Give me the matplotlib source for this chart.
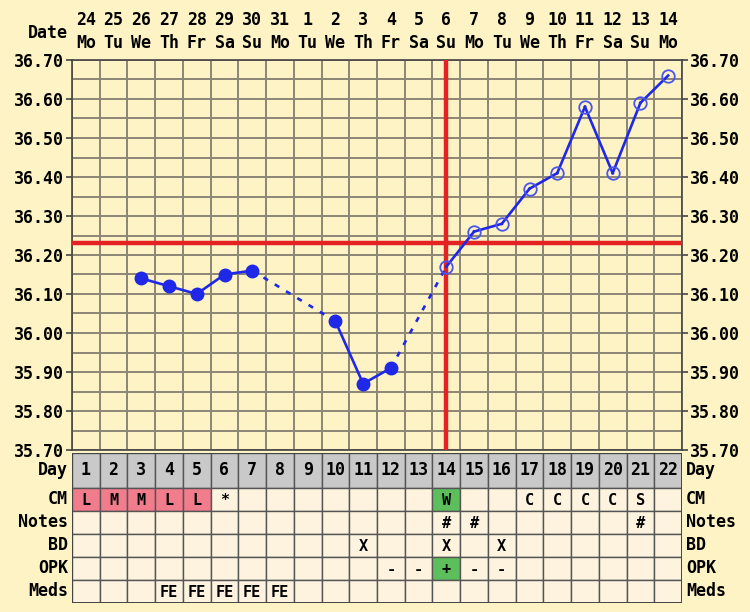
import matplotlib.pyplot as plt
from matplotlib.patches import Rectangle
from matplotlib.transforms import blended_transform_factory

# chart data
dates = ["24", "25", "26", "27", "28", "29", "30", "31", "1", "2", "3",
         "4", "5", "6", "7", "8", "9", "10", "11", "12", "13", "14"]
weekdays = ["Mo", "Tu", "We", "Th", "Fr", "Sa", "Su", "Mo", "Tu", "We", "Th",
            "Fr", "Sa", "Su", "Mo", "Tu", "We", "Th", "Fr", "Sa", "Su", "Mo"]
cycle_days = list(range(1, 23))
temps = [None, None, 36.14, 36.12, 36.10, 36.15, 36.16, None, None, 36.03, 35.87,
         35.91, None, 36.17, 36.26, 36.28, 36.37, 36.41, 36.58, 36.41, 36.59, 36.66]
ovulation_day = 14
coverline = 36.23

cm = ["L", "M", "M", "L", "L", "*", "", "", "", "", "", "", "", "W", "", "",
      "C", "C", "C", "C", "S", ""]
notes = [""] * 13 + ["#", "#"] + [""] * 5 + ["#", ""]
bd = [""] * 10 + ["X", "", "", "X", "", "X"] + [""] * 6
opk = [""] * 11 + ["-", "-", "+", "-", "-"] + [""] * 6
meds = ["", "", "", "FE", "FE", "FE", "FE", "FE"] + [""] * 14
row_names = ["CM", "Notes", "BD", "OPK", "Meds"]
row_values = [cm, notes, bd, opk, meds]
cell_colors = {("CM", "L"): "#f07c8c", ("CM", "M"): "#f07c8c",
               ("CM", "W"): "#5cbf5c", ("OPK", "+"): "#5cbf5c"}

BG = "#fef3c4"
CELL = "#fdf3df"
BLUE = "#1e28e6"
RED = "#e42222"
GRID = "#8c8676"
FONT = "DejaVu Sans Mono"

fig = plt.figure(figsize=(7.5, 6.12), dpi=100, facecolor=BG)
ax = fig.add_axes([72 / 750, 1 - 450 / 612, 610 / 750, 390 / 612])
ax.set_facecolor(BG)
n = len(cycle_days)
ax.set_xlim(0.5, n + 0.5)
ax.set_ylim(35.70, 36.70)

# grid
for k in range(n + 1):
    ax.axvline(0.5 + k, color=GRID, lw=1.4, zorder=1)
for k in range(21):
    ax.axhline(35.70 + 0.05 * k, color=GRID, lw=1.4, zorder=1)

# temperature line
prev = None
for i, t in enumerate(temps):
    if t is None:
        continue
    if prev is not None:
        dashed = i - prev > 1
        ax.plot([cycle_days[prev], cycle_days[i]], [temps[prev], t], color=BLUE,
                lw=1.9, ls=(0, (2, 3)) if dashed else "-", zorder=4)
    prev = i

for d, t in zip(cycle_days, temps):
    if t is None:
        continue
    if d < ovulation_day:
        ax.plot(d, t, "o", ms=9, color=BLUE, zorder=5)
    else:
        ax.plot(d, t, "o", ms=9, mfc="none", mec="#4a55ec", mew=1.3, zorder=5)

ax.axhline(coverline, color=RED, lw=3.2, zorder=3)
ax.axvline(ovulation_day, color=RED, lw=3.2, zorder=3)

yt = [35.70 + 0.1 * k for k in range(11)]
ax.set_yticks(yt)
ax.set_yticklabels([f"{v:.2f}" for v in yt], fontfamily=FONT,
                   fontweight="bold", fontsize=12)
ax.tick_params(axis="y", left=True, right=True, labelleft=True, labelright=True,
               length=4, width=1.2, color="#444444", pad=2)
ax.set_xticks([])
for s in ax.spines.values():
    s.set_color("#444444")
    s.set_linewidth(1.2)

# date header
tr = blended_transform_factory(ax.transData, fig.transFigure)
for d, dt, wd in zip(cycle_days, dates, weekdays):
    ax.text(d, 1 - 20 / 612, dt, transform=tr, ha="center", va="center",
            fontfamily=FONT, fontweight="bold", fontsize=12)
    ax.text(d, 1 - 43 / 612, wd, transform=tr, ha="center", va="center",
            fontfamily=FONT, fontweight="bold", fontsize=12)
fig.text(68 / 750, 1 - 33 / 612, "Date", ha="right", va="center",
         fontfamily=FONT, fontweight="bold", fontsize=12)

# table below
tab = fig.add_axes([72 / 750, 1 - 603 / 612, 610 / 750, 150 / 612])
tab.set_xlim(0.5, n + 0.5)
day_h = 1.5
total = day_h + len(row_names)
tab.set_ylim(total, 0)
tab.axis("off")

for d in cycle_days:
    tab.add_patch(Rectangle((d - 0.5, 0), 1, day_h, facecolor="#c9c9c9",
                            edgecolor="#555555", lw=1))
    tab.text(d, day_h / 2, str(d), ha="center", va="center", fontfamily=FONT,
             fontweight="bold", fontsize=12)
fig.text(68 / 750, 1 - 470 / 612, "Day", ha="right", va="center",
         fontfamily=FONT, fontweight="bold", fontsize=12)
fig.text(686 / 750, 1 - 470 / 612, "Day", ha="left", va="center",
         fontfamily=FONT, fontweight="bold", fontsize=12)

ytr = blended_transform_factory(fig.transFigure, tab.transData)
for r, (name, vals) in enumerate(zip(row_names, row_values)):
    y0 = day_h + r
    for d, v in zip(cycle_days, vals):
        fc = cell_colors.get((name, v), CELL)
        tab.add_patch(Rectangle((d - 0.5, y0), 1, 1, facecolor=fc,
                                edgecolor="#555555", lw=1))
        if v:
            tab.text(d, y0 + 0.55, v, ha="center", va="center", fontfamily=FONT,
                     fontweight="bold", fontsize=11)
    tab.text(68 / 750, y0 + 0.5, name, transform=ytr, ha="right", va="center",
             fontfamily=FONT, fontweight="bold", fontsize=12)
    tab.text(686 / 750, y0 + 0.5, name, transform=ytr, ha="left", va="center",
             fontfamily=FONT, fontweight="bold", fontsize=12)
tab.add_patch(Rectangle((0.5, 0), n, total, facecolor="none",
                        edgecolor="#444444", lw=1.4))

fig.savefig("out.png", dpi=100, facecolor=BG)
